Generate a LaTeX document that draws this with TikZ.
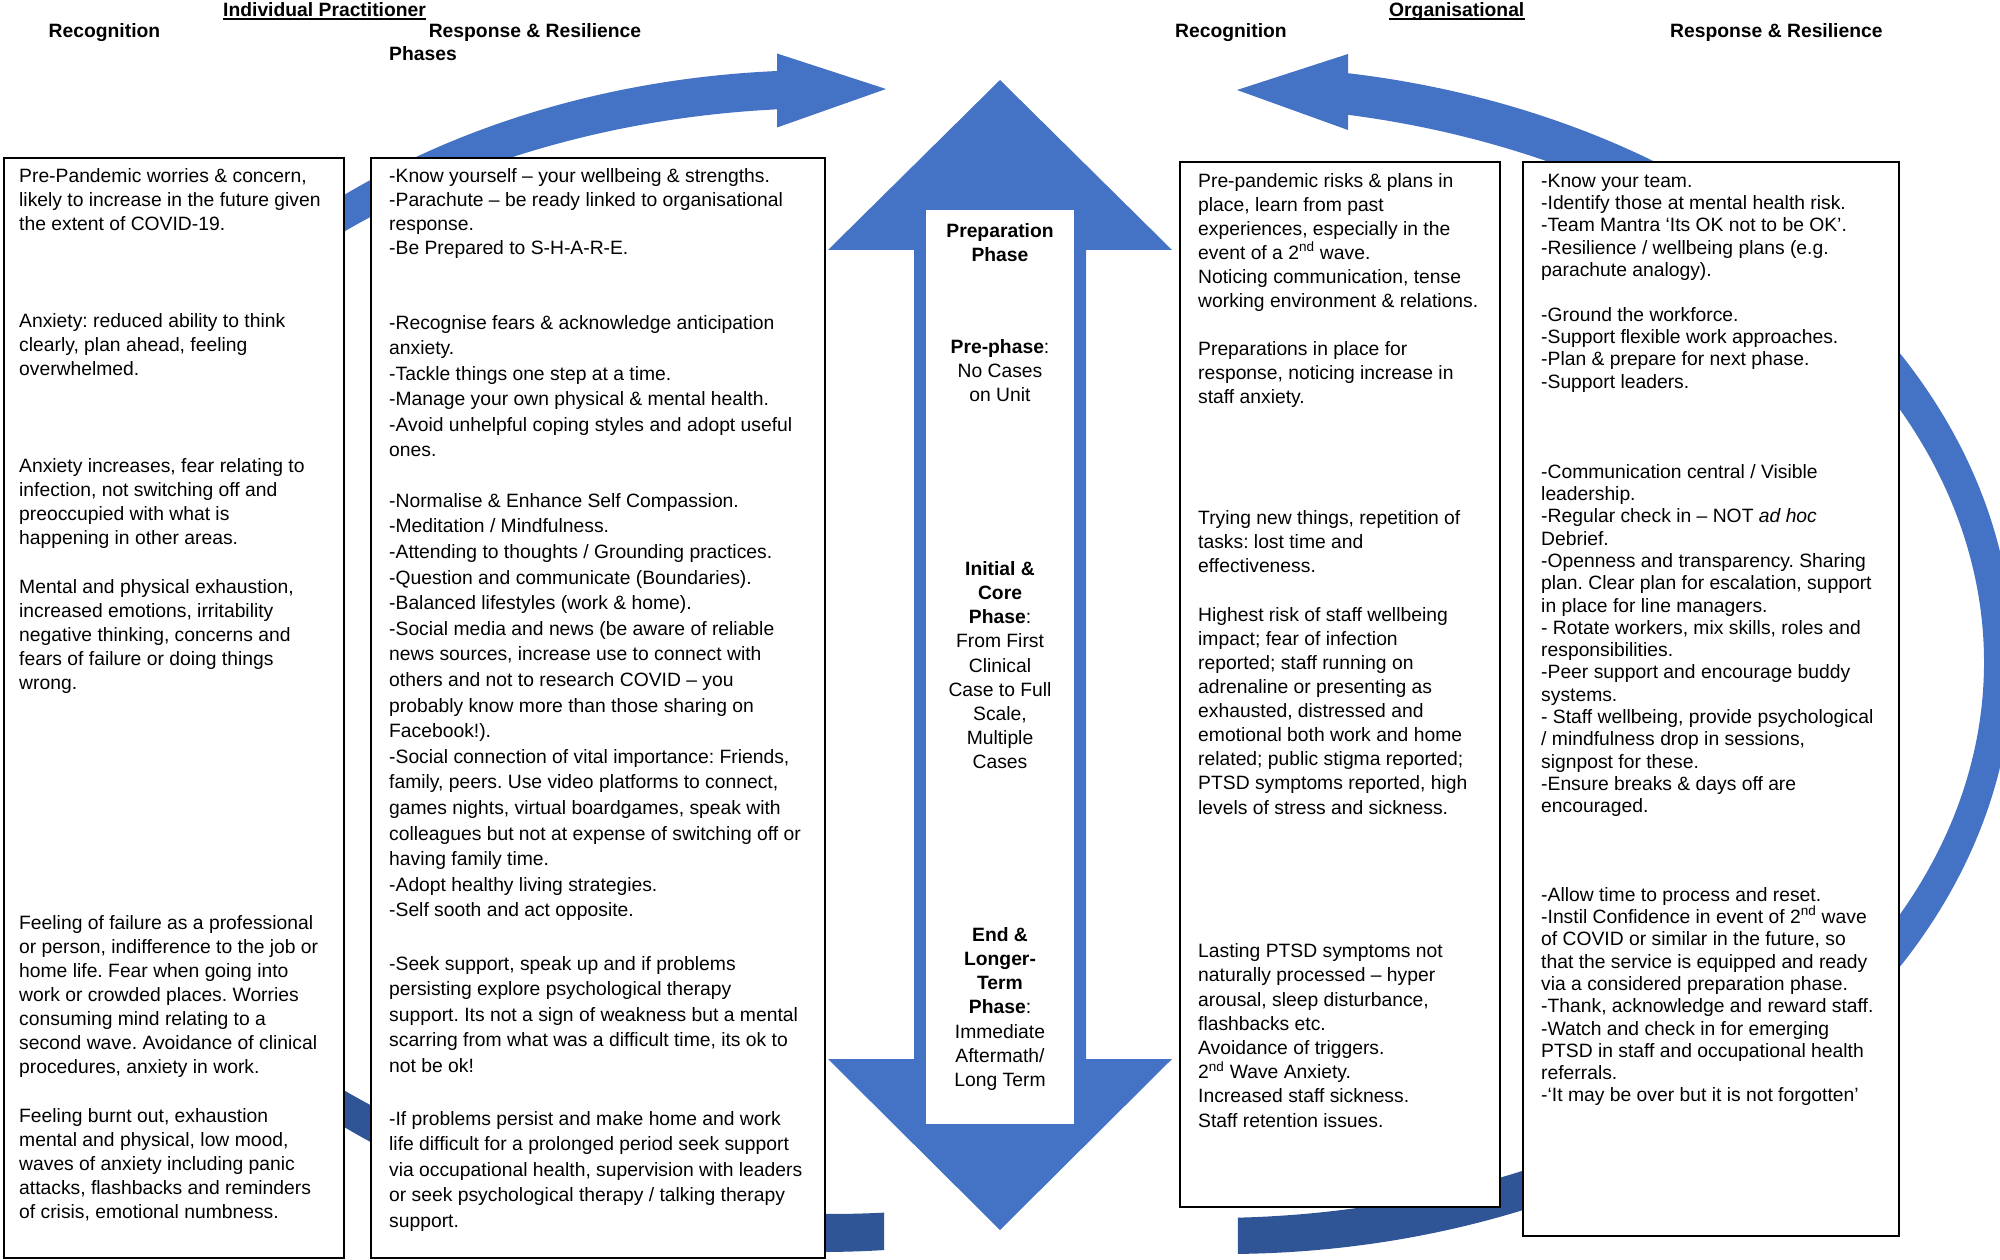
\documentclass[tikz,border=0pt]{standalone}
\usepackage{fontspec}
\setmainfont{Liberation Sans}
\usetikzlibrary{calc}
\definecolor{arrowblue}{HTML}{4472C4}
\definecolor{arrowdark}{HTML}{2F5597}
\newcommand\tstr{\rule{0pt}{15pt}}
\frenchspacing
\begin{document}
\begin{tikzpicture}[x=1pt,y=-1pt,
  para/.style={anchor=north west, align=left, inner sep=0pt, font=\fontsize{19.3}{#1}\selectfont},
  ctr/.style={anchor=north, align=center, inner sep=0pt, font=\fontsize{19.3}{24.2}\selectfont},
  hdr/.style={anchor=base west, inner sep=0pt, font=\fontsize{19.3}{23}\selectfont\bfseries},
  box/.style={draw=black, line width=2pt, fill=white, anchor=north west, inner sep=0pt},
]
\useasboundingbox (0,0) rectangle (2000,1260);
\fill[white] (0,0) rectangle (2000,1260);

% ---- left curved arrow (Individual) ----
\fill[arrowblue] ($(822,661)+(266.68:777 and 591)$)
  arc[start angle=266.68, end angle=140, x radius=777, y radius=591]
  -- ($(830,661)+(140:771 and 553)$)
  arc[start angle=140, end angle=266.06, x radius=771, y radius=553]
  -- (777,127.5) -- (886,89) -- (777,53.5) -- cycle;
\fill[arrowdark] ($(822,661)+(140:777 and 591)$)
  arc[start angle=140, end angle=85.42, x radius=777, y radius=591]
  -- ($(830,661)+(85.98:771 and 553)$)
  arc[start angle=85.98, end angle=140, x radius=771, y radius=553]
  -- cycle;

% ---- right curved arrow (Organisational) ----
\fill[arrowblue] ($(1226,660)+(-81.08:787 and 594)$)
  arc[start angle=-81.08, end angle=40, x radius=787, y radius=594]
  -- ($(1211,662)+(40:773 and 556)$)
  arc[start angle=40, end angle=-79.79, x radius=773, y radius=556]
  -- (1348,130) -- (1237,90) -- (1348,54) -- cycle;
\fill[arrowdark] ($(1226,660)+(40:787 and 594)$)
  arc[start angle=40, end angle=89.13, x radius=787, y radius=594]
  -- ($(1211,662)+(88.0:773 and 556)$)
  arc[start angle=88.0, end angle=40, x radius=773, y radius=556]
  -- cycle;

% ---- boxes ----
\node[box, minimum width=340pt, minimum height=1100pt] (b1) at (3,157) {};
\node[box, minimum width=454pt, minimum height=1100pt] (b2) at (370,157) {};
\node[box, minimum width=320pt, minimum height=1045pt] (b3) at (1179,161) {};
\node[box, minimum width=376pt, minimum height=1074pt] (b4) at (1522,161) {};

% ---- central double arrow ----
\fill[arrowblue] (1000,80) -- (1172,250) -- (1086,250) -- (1086,1059) -- (1172,1059)
  -- (1000,1230) -- (828,1059) -- (914,1059) -- (914,250) -- (828,250) -- cycle;
\node[fill=white, inner sep=0pt, minimum width=148pt, minimum height=914pt, anchor=north west] (cw) at (926,210) {};

% ---- headers ----
\node[hdr] (h1) at (48.5,38) {Recognition};
\node[hdr] (h2) at (223,16.5) {Individual Practitioner};
\draw[line width=1.8pt] ([yshift=-2.8pt]h2.base west) -- ([yshift=-2.8pt]h2.base east);
\node[hdr] (h3) at (428.6,38) {Response \& Resilience};
\node[hdr] (h4) at (389,61) {Phases};
\node[hdr] (h5) at (1175,38) {Recognition};
\node[hdr] (h6) at (1389,16.5) {Organisational};
\draw[line width=1.8pt] ([yshift=-2.8pt]h6.base west) -- ([yshift=-2.8pt]h6.base east);
\node[hdr] (h7) at (1670,38) {Response \& Resilience};

% ---- box 1 ----
\node[para=24.1] (l1) at (19,167) {\tstr Pre-Pandemic worries \& concern,\\likely to increase in the future given\\the extent of COVID-19.};
\node[para=24.1] (l2) at (19,312) {\tstr Anxiety: reduced ability to think\\clearly, plan ahead, feeling\\overwhelmed.};
\node[para=24.1] (l3) at (19,457) {\tstr Anxiety increases, fear relating to\\infection, not switching off and\\preoccupied with what is\\happening in other areas.};
\node[para=24.1] (l4) at (19,578) {\tstr Mental and physical exhaustion,\\increased emotions, irritability\\negative thinking, concerns and\\fears of failure or doing things\\wrong.};
\node[para=24.0] (l5) at (19,914) {\tstr Feeling of failure as a professional\\or person, indifference to the job or\\home life. Fear when going into\\work or crowded places. Worries\\consuming mind relating to a\\second wave. Avoidance of clinical\\procedures, anxiety in work.};
\node[para=24.0] (l6) at (19,1107) {\tstr Feeling burnt out, exhaustion\\mental and physical, low mood,\\waves of anxiety including panic\\attacks, flashbacks and reminders\\of crisis, emotional numbness.};

% ---- box 2 ----
\node[para=24.2] (r1) at (389,167) {\tstr -Know yourself – your wellbeing \& strengths.\\-Parachute – be ready linked to organisational\\response.\\-Be Prepared to S-H-A-R-E.};
\node[para=25.5] (r2) at (389,314) {\tstr -Recognise fears \& acknowledge anticipation\\anxiety.\\-Tackle things one step at a time.\\-Manage your own physical \& mental health.\\-Avoid unhelpful coping styles and adopt useful\\ones.};
\node[para=25.6] (r3) at (389,492) {\tstr -Normalise \& Enhance Self Compassion.\\-Meditation / Mindfulness.\\-Attending to thoughts / Grounding practices.\\-Question and communicate (Boundaries).\\-Balanced lifestyles (work \& home).\\-Social media and news (be aware of reliable\\news sources, increase use to connect with\\others and not to research COVID – you\\probably know more than those sharing on\\Facebook!).\\-Social connection of vital importance: Friends,\\family, peers. Use video platforms to connect,\\games nights, virtual boardgames, speak with\\colleagues but not at expense of switching off or\\having family time.\\-Adopt healthy living strategies.\\-Self sooth and act opposite.};
\node[para=25.5] (r4) at (389,955) {\tstr -Seek support, speak up and if problems\\persisting explore psychological therapy\\support. Its not a sign of weakness but a mental\\scarring from what was a difficult time, its ok to\\not be ok!};
\node[para=25.5] (r5) at (389,1110) {\tstr -If problems persist and make home and work\\life difficult for a prolonged period seek support\\via occupational health, supervision with leaders\\or seek psychological therapy / talking therapy\\support.};

% ---- centre ----
\node[ctr] (c1) at (1000,222) {\tstr\textbf{Preparation}\\\textbf{Phase}};
\node[ctr] (c2) at (1000,338) {\tstr\textbf{Pre-phase}:\\No Cases\\on Unit};
\node[ctr] (c3) at (1000,560) {\tstr\textbf{Initial \&}\\\textbf{Core}\\\textbf{Phase}:\\From First\\Clinical\\Case to Full\\Scale,\\Multiple\\Cases};
\node[ctr] (c4) at (1000,926) {\tstr\textbf{End \&}\\\textbf{Longer-}\\\textbf{Term}\\\textbf{Phase}:\\Immediate\\Aftermath/\\Long Term};

% ---- box 3 ----
\node[para=24.0] (o1) at (1198,172) {\tstr Pre-pandemic risks \& plans in\\place, learn from past\\experiences, especially in the\\event of a 2\textsuperscript{nd} wave.\\Noticing communication, tense\\working environment \& relations.};
\node[para=24.0] (o2) at (1198,340.5) {\tstr Preparations in place for\\response, noticing increase in\\staff anxiety.};
\node[para=24.0] (o3) at (1198,509) {\tstr Trying new things, repetition of\\tasks: lost time and\\effectiveness.};
\node[para=24.1] (o4) at (1198,606) {\tstr Highest risk of staff wellbeing\\impact; fear of infection\\reported; staff running on\\adrenaline or presenting as\\exhausted, distressed and\\emotional both work and home\\related; public stigma reported;\\PTSD symptoms reported, high\\levels of stress and sickness.};
\node[para=24.2] (o5) at (1198,942.5) {\tstr Lasting PTSD symptoms not\\naturally processed – hyper\\arousal, sleep disturbance,\\flashbacks etc.\\Avoidance of triggers.\\2\textsuperscript{nd} Wave Anxiety.\\Increased staff sickness.\\Staff retention issues.};

% ---- box 4 ----
\node[para=22.3] (s1) at (1541,172) {\tstr -Know your team.\\-Identify those at mental health risk.\\-Team Mantra ‘Its OK not to be OK’.\\-Resilience / wellbeing plans (e.g.\\parachute analogy).};
\node[para=22.3] (s2) at (1541,306) {\tstr -Ground the workforce.\\-Support flexible work approaches.\\-Plan \& prepare for next phase.\\-Support leaders.};
\node[para=22.3] (s3) at (1541,463) {\tstr -Communication central / Visible\\leadership.\\-Regular check in – NOT \textit{ad hoc}\\Debrief.\\-Openness and transparency. Sharing\\plan. Clear plan for escalation, support\\in place for line managers.\\- Rotate workers, mix skills, roles and\\responsibilities.\\-Peer support and encourage buddy\\systems.\\- Staff wellbeing, provide psychological\\/ mindfulness drop in sessions,\\signpost for these.\\-Ensure breaks \& days off are\\encouraged.};
\node[para=22.3] (s4) at (1541,886) {\tstr -Allow time to process and reset.\\-Instil Confidence in event of 2\textsuperscript{nd} wave\\of COVID or similar in the future, so\\that the service is equipped and ready\\via a considered preparation phase.\\-Thank, acknowledge and reward staff.\\-Watch and check in for emerging\\PTSD in staff and occupational health\\referrals.\\-‘It may be over but it is not forgotten’};
\end{tikzpicture}
\end{document}
